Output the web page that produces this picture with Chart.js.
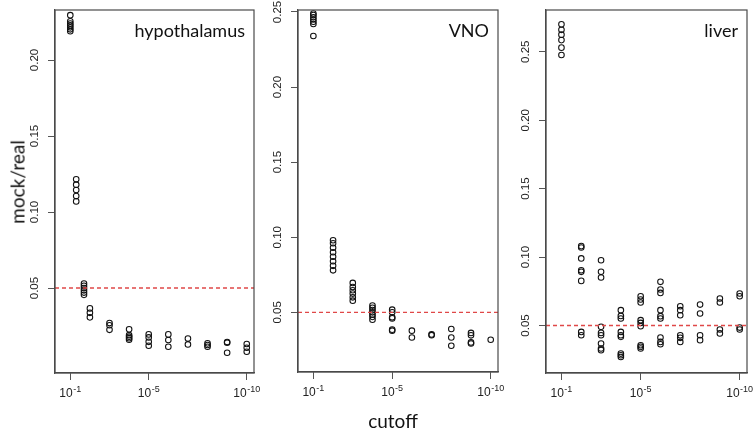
<!DOCTYPE html>
<html><head><meta charset="utf-8">
<script src="https://cdn.jsdelivr.net/npm/chart.js@4.4.0/dist/chart.umd.min.js"></script>
<style>
html,body{margin:0;padding:0;background:#fff;}
#wrap{position:relative;width:755px;height:431px;overflow:hidden;background:#fff;}
canvas{position:absolute;top:0;}
.lab{position:absolute;font-family:Lato,'Open Sans',sans-serif;color:#111;white-space:nowrap;line-height:19px;font-size:19px;}
#ylab{left:17px;top:182px;transform:translate(-50%,-50%) rotate(-90deg);}
#xlab{left:393px;top:411px;transform:translateX(-50%);}
</style></head><body>
<div id="wrap">
<canvas id="c1" width="275" height="431" style="left:0px"></canvas>
<canvas id="c2" width="262" height="431" style="left:258px"></canvas>
<canvas id="c3" width="253" height="431" style="left:502px"></canvas>
<div class="lab" id="ylab">mock/real</div>
<div class="lab" id="xlab">cutoff</div>
</div>
<script>
// ---------- data ----------
const panelTitles = ['hypothalamus', 'VNO', 'liver'];
const THRESHOLD = 0.05;

const hypoCutoffs = [1e-1, 5e-2, 2e-2, 1e-2, 1e-3, 1e-4, 1e-5, 1e-6, 1e-7, 1e-8, 1e-9, 1e-10];
const hypoValues = [
  [0.2295, 0.2255, 0.2240, 0.2228, 0.2215, 0.2202, 0.2190],
  [0.1215, 0.1180, 0.1145, 0.1105, 0.1070],
  [0.0530, 0.0515, 0.0500, 0.0485, 0.0470, 0.0455],
  [0.0366, 0.0337, 0.0307],
  [0.0270, 0.0255, 0.0225],
  [0.0228, 0.0190, 0.0180, 0.0170, 0.0160],
  [0.0195, 0.0175, 0.0146, 0.0120],
  [0.0195, 0.0158, 0.0114],
  [0.0168, 0.0129],
  [0.0136, 0.0125, 0.0114],
  [0.0145, 0.0140, 0.0074],
  [0.0132, 0.0107, 0.0081]
];

const vnoCutoffs = [1e-1, 1e-2, 1e-3, 1e-4, 1e-5, 1e-6, 1e-7, 1e-8, 1e-9, 1e-10];
const vnoValues = [
  [0.2490, 0.2480, 0.2465, 0.2450, 0.2435, 0.2420, 0.2340],
  [0.0980, 0.0960, 0.0930, 0.0900, 0.0870, 0.0840, 0.0810, 0.0780],
  [0.0696, 0.0669, 0.0647, 0.0625, 0.0600, 0.0578],
  [0.0545, 0.0530, 0.0515, 0.0500, 0.0485, 0.0470, 0.0451],
  [0.0518, 0.0500, 0.0467, 0.0460, 0.0385, 0.0378],
  [0.0378, 0.0333],
  [0.0353, 0.0348],
  [0.0389, 0.0333, 0.0278],
  [0.0363, 0.0347, 0.0300, 0.0293],
  [0.0318]
];

const liverCutoffs = [1e-1, 1e-2, 1e-3, 1e-4, 1e-5, 1e-6, 1e-7, 1e-8, 1e-9, 1e-10];
const liverValues = [
  [0.2700, 0.2660, 0.2625, 0.2585, 0.2530, 0.2476],
  [0.1080, 0.1070, 0.0990, 0.0904, 0.0892, 0.0826, 0.0453, 0.0429],
  [0.0977, 0.0892, 0.0851, 0.0490, 0.0446, 0.0429, 0.0368, 0.0332, 0.0320],
  [0.0612, 0.0570, 0.0551, 0.0453, 0.0429, 0.0417, 0.0295, 0.0283, 0.0270],
  [0.0714, 0.0690, 0.0668, 0.0539, 0.0519, 0.0495, 0.0356, 0.0344, 0.0332],
  [0.0819, 0.0763, 0.0738, 0.0612, 0.0568, 0.0551, 0.0412, 0.0380, 0.0363],
  [0.0641, 0.0612, 0.0575, 0.0429, 0.0410, 0.0380],
  [0.0653, 0.0588, 0.0429, 0.0393],
  [0.0697, 0.0668, 0.0471, 0.0442],
  [0.0734, 0.0714, 0.0485, 0.0471]
];

const xTickValues = [1e-1, 1e-5, 1e-10];
const xTickBase = '10';
const xTickExponents = ['-1', '-5', '-10'];
const hypoYTicks = [0.05, 0.10, 0.15, 0.20];
const vnoYTicks = [0.05, 0.10, 0.15, 0.20, 0.25];
const liverYTicks = [0.05, 0.10, 0.15, 0.20, 0.25];

// axis limits
const X_MAX = Math.pow(10, -0.22);
const X_MIN = Math.pow(10, -10.37);
const hypoYRange = [-0.0059, 0.2329];
const vnoYRange = [0.0103, 0.2513];
const liverYRange = [0.0153, 0.2805];

// ---------- drawing ----------
function toPoints(cutoffs, values) {
  const pts = [];
  cutoffs.forEach((c, i) => values[i].forEach(v => pts.push({x: c, y: v})));
  return pts;
}

const boxPlugin = {
  id: 'box',
  afterDatasetsDraw(chart, args, opts) {
    const a = chart.chartArea, ctx = chart.ctx;
    ctx.save();
    ctx.strokeStyle = '#4a4a4a';
    ctx.lineWidth = 1.2;
    ctx.strokeRect(a.left, a.top, a.right - a.left, a.bottom - a.top);
    ctx.fillStyle = '#111';
    ctx.font = '18px Lato, "Open Sans", sans-serif';
    ctx.textAlign = 'right';
    ctx.textBaseline = 'alphabetic';
    ctx.fillText(opts.title, a.right - 9, a.top + 27);
    // x tick labels: base with superscript exponent
    const xs = chart.scales.x;
    const baseFont = '12px "Liberation Sans", Arial, sans-serif';
    const expFont = '9px "Liberation Sans", Arial, sans-serif';
    ctx.fillStyle = '#222';
    ctx.textAlign = 'left';
    xTickValues.forEach((v, i) => {
      const px = xs.getPixelForValue(v);
      ctx.font = baseFont;
      const wb = ctx.measureText(xTickBase).width;
      ctx.font = expFont;
      const we = ctx.measureText(xTickExponents[i]).width;
      const x0 = px - (wb + we + 0.5) / 2;
      const yb = a.bottom + 24;
      ctx.font = baseFont;
      ctx.fillText(xTickBase, x0, yb);
      ctx.font = expFont;
      ctx.fillText(xTickExponents[i], x0 + wb + 0.5, yb - 5);
    });
    ctx.restore();
  }
};

function makePanel(id, title, cutoffs, values, yRange, yTicks, yW, xH, padR) {
  const tickFont = {family: '"Liberation Sans", Arial, sans-serif', size: 11.5};
  return new Chart(document.getElementById(id), {
    type: 'scatter',
    data: {
      datasets: [
        {
          type: 'line',
          data: [{x: X_MAX, y: THRESHOLD}, {x: X_MIN, y: THRESHOLD}],
          borderColor: '#e04848',
          borderWidth: 1.4,
          borderDash: [4, 3],
          pointRadius: 0,
          fill: false
        },
        {
          data: toPoints(cutoffs, values),
          pointStyle: 'circle',
          pointRadius: 2.8,
          pointBorderWidth: 1.05,
          pointBorderColor: '#111',
          pointBackgroundColor: 'rgba(0,0,0,0)',
          showLine: false
        }
      ]
    },
    options: {
      responsive: false,
      animation: false,
      devicePixelRatio: window.devicePixelRatio || 1,
      layout: {padding: {top: 10, right: padR, left: 0, bottom: 0}},
      plugins: {legend: {display: false}, tooltip: {enabled: false}, box: {title: title}},
      scales: {
        x: {
          type: 'logarithmic',
          reverse: true,
          min: X_MIN,
          max: X_MAX,
          afterBuildTicks: s => { s.ticks = xTickValues.map(v => ({value: v})); },
          afterFit: s => { s.height = xH; s.paddingLeft = 0; s.paddingRight = 0; },
          ticks: {display: false, autoSkip: false},
          grid: {display: true, drawOnChartArea: false, drawTicks: true, tickLength: 7, color: '#555', lineWidth: 1},
          border: {display: true, color: '#4a4a4a', width: 1.2}
        },
        y: {
          type: 'linear',
          min: yRange[0],
          max: yRange[1],
          afterBuildTicks: s => { s.ticks = yTicks.map(v => ({value: v})); },
          afterFit: s => { s.width = yW; s.paddingTop = 0; s.paddingBottom = 0; },
          ticks: {
            autoSkip: false,
            minRotation: 90,
            maxRotation: 90,
            crossAlign: 'center',
            padding: 2,
            color: '#222',
            font: tickFont,
            callback: v => Number(v).toFixed(2)
          },
          grid: {display: true, drawOnChartArea: false, drawTicks: true, tickLength: 7, color: '#555', lineWidth: 1},
          border: {display: true, color: '#4a4a4a', width: 1.2}
        }
      }
    },
    plugins: [boxPlugin]
  });
}

makePanel('c1', panelTitles[0], hypoCutoffs, hypoValues, hypoYRange, hypoYTicks, 55, 58, 21);
makePanel('c2', panelTitles[1], vnoCutoffs, vnoValues, vnoYRange, vnoYTicks, 40, 59, 22);
makePanel('c3', panelTitles[2], liverCutoffs, liverValues, liverYRange, liverYTicks, 44, 58, 8);
</script>
</body></html>
